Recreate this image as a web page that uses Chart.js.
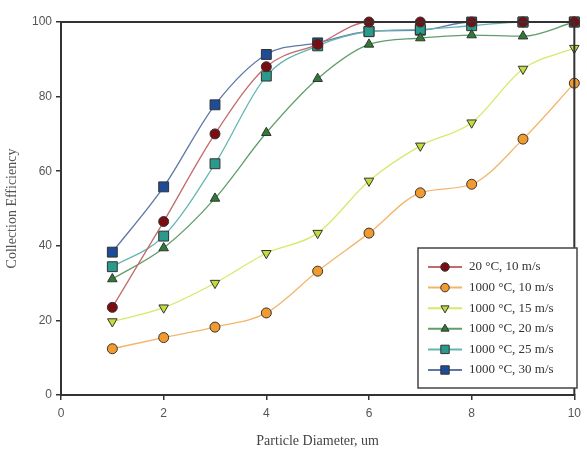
<!DOCTYPE html>
<html>
<head>
<meta charset="utf-8">
<script src="https://cdn.jsdelivr.net/npm/chart.js@4"></script>
<style>
  html,body{margin:0;padding:0;background:#fff;}
  #wrap{width:587px;height:454px;position:relative;}
</style>
</head>
<body>
<div id="wrap"><canvas id="eff"></canvas></div>
<script>
// particle diameter (um) on the x axis
const diameters = [1,2,3,4,5,6,7,8,9,10];

// collection efficiency per test condition
const c20v10   = [23.5,46.5,70,88,94,100,100,100,100,100];
const c1000v10 = [12.4,15.4,18.2,22,33.2,43.4,54.2,56.5,68.6,83.6];
const c1000v15 = [19.7,23.4,30,38,43.4,57.4,66.8,73,87.4,93];
const c1000v20 = [31.1,39.4,52.7,70.3,84.8,94,95.7,96.5,96.2,100];
const c1000v25 = [34.4,42.6,62,85.5,93.6,97.4,98,99,100,100];
const c1000v30 = [38.3,55.8,77.8,91.3,94.4,97.5,97.8,100,100,100];

const seriesLabels = ['20 \u00B0C, 10 m/s','1000 \u00B0C, 10 m/s','1000 \u00B0C, 15 m/s','1000 \u00B0C, 20 m/s','1000 \u00B0C, 25 m/s','1000 \u00B0C, 30 m/s'];
const yTicks = [0,20,40,60,80,100];
const xTicks = [0,2,4,6,8,10];

const styles = [
  {line:'#c46a6a', fill:'#7a0d12', shape:'circle', rot:0, r:5},
  {line:'#f2b66a', fill:'#f29a2e', shape:'circle', rot:0, r:5},
  {line:'#d4ea6a', fill:'#c4dc3a', shape:'triangle', rot:180, r:5.5},
  {line:'#5f9e6a', fill:'#2f7a35', shape:'triangle', rot:0, r:5.5},
  {line:'#66b6b0', fill:'#2a9a8c', shape:'rect', rot:0, r:7},
  {line:'#5d78a8', fill:'#1e4c96', shape:'rect', rot:0, r:7}
];
const allData = [c20v10,c1000v10,c1000v15,c1000v20,c1000v25,c1000v30];

const datasets = allData.map((vals,i)=>({
  label: seriesLabels[i],
  data: vals.map((v,k)=>({x:diameters[k], y:v})),
  borderColor: styles[i].line,
  borderWidth: 1.3,
  backgroundColor: styles[i].fill,
  pointBackgroundColor: styles[i].fill,
  pointBorderColor: '#333',
  pointBorderWidth: 1,
  pointStyle: styles[i].shape,
  pointRotation: styles[i].rot,
  pointRadius: styles[i].r,
  cubicInterpolationMode: 'monotone',
  clip: false
}));

// frame on top/right plus the legend box inside the plot
const framePlugin = {
  id:'frame',
  afterDraw(chart){
    const {ctx, chartArea:a} = chart;
    ctx.save();
    ctx.strokeStyle = '#333';
    ctx.lineWidth = 2;
    ctx.beginPath();
    ctx.moveTo(a.left, a.top); ctx.lineTo(a.right, a.top); ctx.lineTo(a.right, a.bottom);
    ctx.stroke();

    // legend
    const bx = 418, by = 248, bw = 159, bh = 140;
    ctx.fillStyle = '#fff';
    ctx.fillRect(bx,by,bw,bh);
    ctx.lineWidth = 1.5;
    ctx.strokeStyle = '#444';
    ctx.strokeRect(bx,by,bw,bh);
    ctx.font = '13px "Liberation Serif", "DejaVu Serif", serif';
    ctx.textBaseline = 'middle';
    seriesLabels.forEach((lab,i)=>{
      const y = by + 19 + i*20.6;
      ctx.strokeStyle = styles[i].line;
      ctx.lineWidth = 2;
      ctx.beginPath(); ctx.moveTo(428,y); ctx.lineTo(462,y); ctx.stroke();
      ctx.fillStyle = styles[i].fill;
      ctx.strokeStyle = '#333';
      ctx.lineWidth = 1;
      Chart.helpers.drawPoint(ctx, {pointStyle:styles[i].shape, rotation:styles[i].rot, radius:styles[i].r*0.85, borderWidth:1}, 445, y);
      ctx.fillStyle = '#333';
      ctx.fillText(lab, 469, y);
    });
    ctx.restore();
  }
};

new Chart(document.getElementById('eff'), {
  type:'line',
  data:{datasets},
  plugins:[framePlugin],
  options:{
    responsive:true,
    maintainAspectRatio:false,
    animation:false,
    layout:{padding:{top:22,right:6,left:0,bottom:0}},
    plugins:{legend:{display:false}, tooltip:{enabled:false}},
    scales:{
      x:{
        type:'linear', min:0, max:10,
        afterFit(s){ s.height = 59; },
        afterBuildTicks(s){ s.ticks = xTicks.map(v=>({value:v})); },
        grid:{drawOnChartArea:false, tickLength:5, color:'#333', lineWidth:1.5},
        border:{color:'#333', width:2},
        ticks:{color:'#555', font:{family:'"Liberation Sans", Arial, sans-serif', size:12}, padding:6},
        title:{display:true, text:'Particle Diameter, um', color:'#444',
               font:{family:'"Liberation Serif", "DejaVu Serif", serif', size:14}, padding:{top:8}}
      },
      y:{
        type:'linear', min:0, max:100,
        afterFit(s){ s.width = 61; },
        afterBuildTicks(s){ s.ticks = yTicks.map(v=>({value:v})); },
        grid:{drawOnChartArea:false, tickLength:5, color:'#333', lineWidth:1.5},
        border:{color:'#333', width:2},
        ticks:{color:'#555', font:{family:'"Liberation Sans", Arial, sans-serif', size:12}, padding:4},
        title:{display:true, text:'Collection Efficiency', color:'#555',
               font:{family:'"Liberation Serif", "DejaVu Serif", serif', size:14}, padding:{bottom:4}}
      }
    }
  }
});
</script>
</body>
</html>
